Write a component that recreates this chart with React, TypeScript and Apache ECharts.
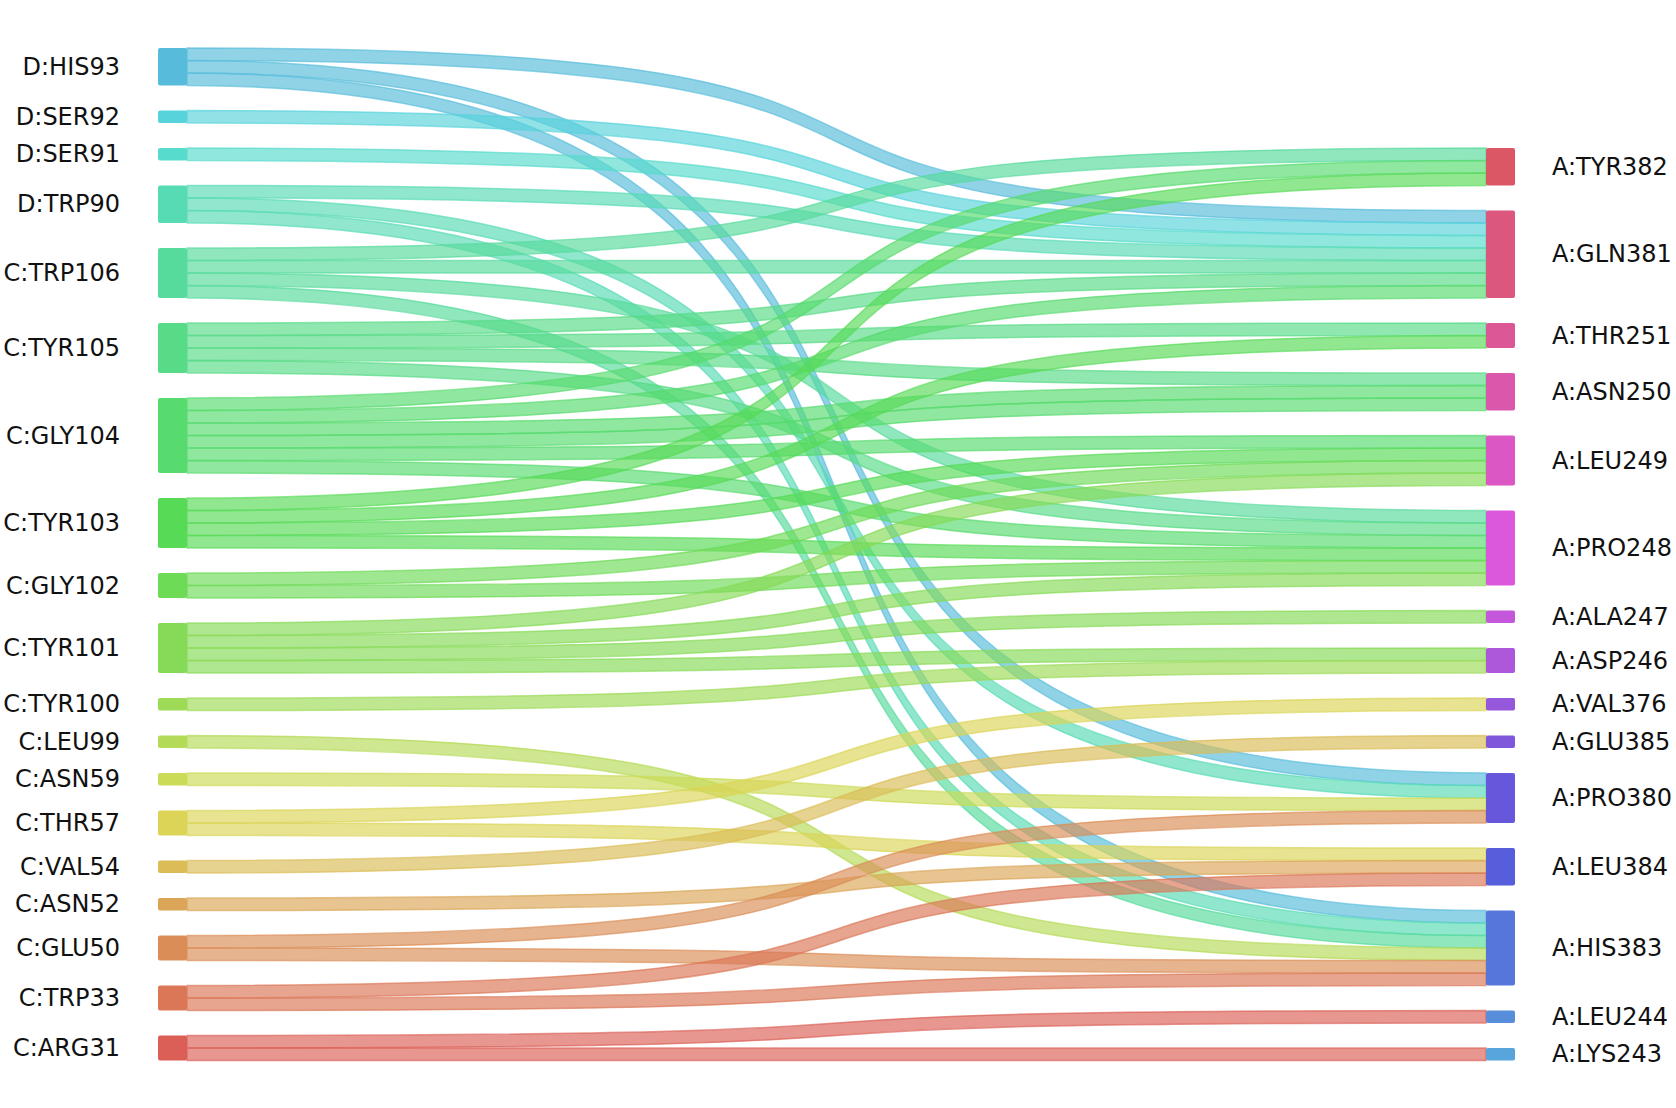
import React, { useEffect, useRef } from "react";
import * as echarts from "echarts";

// Left column (top to bottom)
const leftNodes = [
  "D:HIS93", "D:SER92", "D:SER91", "D:TRP90", "C:TRP106", "C:TYR105", "C:GLY104",
  "C:TYR103", "C:GLY102", "C:TYR101", "C:TYR100", "C:LEU99", "C:ASN59", "C:THR57",
  "C:VAL54", "C:ASN52", "C:GLU50", "C:TRP33", "C:ARG31",
];
const leftColors = [
  "#57bcdb", "#57d3db", "#57dbcc", "#57dbb4", "#57db9d", "#57db86", "#57db6e",
  "#57db57", "#6edb57", "#85db57", "#9ddb57", "#b4db57", "#ccdb57", "#dbd457",
  "#dbbc57", "#dba557", "#db8d57", "#db7657", "#db5f57",
];

// Right column (top to bottom)
const rightNodes = [
  "A:TYR382", "A:GLN381", "A:THR251", "A:ASN250", "A:LEU249", "A:PRO248", "A:ALA247",
  "A:ASP246", "A:VAL376", "A:GLU385", "A:PRO380", "A:LEU384", "A:HIS383", "A:LEU244",
  "A:LYS243",
];
const rightColors = [
  "#db5766", "#db577e", "#db5795", "#db57ac", "#db57c4", "#db57db", "#c457db",
  "#ad57db", "#9557db", "#7e57db", "#6657db", "#575edb", "#5776db", "#578ddb",
  "#57a5db",
];

// [source, target, number of contacts (strands)]
const contacts: [string, string, number][] = [
  ["D:HIS93", "A:GLN381", 1], ["D:HIS93", "A:PRO380", 1], ["D:HIS93", "A:HIS383", 1],
  ["D:SER92", "A:GLN381", 1],
  ["D:SER91", "A:GLN381", 1],
  ["D:TRP90", "A:GLN381", 1], ["D:TRP90", "A:PRO380", 1], ["D:TRP90", "A:HIS383", 1],
  ["C:TRP106", "A:TYR382", 1], ["C:TRP106", "A:GLN381", 1], ["C:TRP106", "A:PRO248", 1], ["C:TRP106", "A:HIS383", 1],
  ["C:TYR105", "A:GLN381", 1], ["C:TYR105", "A:THR251", 1], ["C:TYR105", "A:ASN250", 1], ["C:TYR105", "A:PRO248", 1],
  ["C:GLY104", "A:TYR382", 1], ["C:GLY104", "A:GLN381", 1], ["C:GLY104", "A:ASN250", 2], ["C:GLY104", "A:LEU249", 1], ["C:GLY104", "A:PRO248", 1],
  ["C:TYR103", "A:TYR382", 1], ["C:TYR103", "A:THR251", 1], ["C:TYR103", "A:LEU249", 1], ["C:TYR103", "A:PRO248", 1],
  ["C:GLY102", "A:LEU249", 1], ["C:GLY102", "A:PRO248", 1],
  ["C:TYR101", "A:LEU249", 1], ["C:TYR101", "A:PRO248", 1], ["C:TYR101", "A:ALA247", 1], ["C:TYR101", "A:ASP246", 1],
  ["C:TYR100", "A:ASP246", 1],
  ["C:LEU99", "A:HIS383", 1],
  ["C:ASN59", "A:PRO380", 1],
  ["C:THR57", "A:VAL376", 1], ["C:THR57", "A:LEU384", 1],
  ["C:VAL54", "A:GLU385", 1],
  ["C:ASN52", "A:LEU384", 1],
  ["C:GLU50", "A:PRO380", 1], ["C:GLU50", "A:HIS383", 1],
  ["C:TRP33", "A:LEU384", 1], ["C:TRP33", "A:HIS383", 1],
  ["C:ARG31", "A:LEU244", 1], ["C:ARG31", "A:LYS243", 1],
];

const CW = 1676;
const CH = 1108;
const TOP = 48;
const BOTTOM = 47.5;
const LEFT = 158;
const RIGHT = 161;
const GAP = 25;
const NODE_W = 29;

export default function App() {
  const ref = useRef<HTMLDivElement>(null);

  useEffect(() => {
    if (!ref.current) return;
    const chart = echarts.init(ref.current, undefined, { renderer: "svg" });

    const colorOf: Record<string, string> = {};
    leftNodes.forEach((n, i) => (colorOf[n] = leftColors[i]));
    rightNodes.forEach((n, i) => (colorOf[n] = rightColors[i]));

    const outSum: Record<string, number> = {};
    const inSum: Record<string, number> = {};
    const links: any[] = [];
    contacts.forEach(([s, t, n]) => {
      outSum[s] = (outSum[s] || 0) + n;
      inSum[t] = (inSum[t] || 0) + n;
      for (let k = 0; k < n; k++) {
        links.push({
          source: s,
          target: t,
          value: 1,
          lineStyle: {
            color: colorOf[s],
            borderColor: colorOf[s],
            borderWidth: 1.5,
            opacity: 0.66,
          },
        });
      }
    });

    const layoutH = CH - TOP - BOTTOM;
    const sumL = leftNodes.reduce((a, n) => a + (outSum[n] || 0), 0);
    const sumR = rightNodes.reduce((a, n) => a + (inSum[n] || 0), 0);
    const ky = Math.min(
      (layoutH - (leftNodes.length - 1) * GAP) / sumL,
      (layoutH - (rightNodes.length - 1) * GAP) / sumR
    );
    const rightSpan = sumR * ky + (rightNodes.length - 1) * GAP;
    let yCursor = layoutH - rightSpan;

    const nodes: any[] = [];
    leftNodes.forEach((n, i) => {
      nodes.push({
        name: n,
        itemStyle: { color: leftColors[i], borderRadius: 2 },
        label: { position: "left", distance: 38 },
      });
    });
    rightNodes.forEach((n, i) => {
      nodes.push({
        name: n,
        localY: yCursor / layoutH,
        itemStyle: { color: rightColors[i], borderRadius: 2 },
        label: { position: "right", distance: 37 },
      });
      yCursor += (inSum[n] || 0) * ky + GAP;
    });

    chart.setOption({
      animation: false,
      backgroundColor: "#ffffff",
      series: [
        {
          type: "sankey",
          left: LEFT,
          right: RIGHT,
          top: TOP,
          bottom: BOTTOM,
          nodeWidth: NODE_W,
          nodeGap: GAP,
          layoutIterations: 0,
          draggable: false,
          emphasis: { disabled: true },
          data: nodes,
          links: links,
          lineStyle: { curveness: 0.74 },
          label: {
            fontFamily: "DejaVu Sans",
            fontSize: 24,
            color: "#111111",
          },
        },
      ],
    });

    return () => {
      chart.dispose();
    };
  }, []);

  return (
    <div
      ref={ref}
      style={{
        position: "fixed",
        left: 0,
        top: 0,
        width: CW,
        height: CH,
        background: "#ffffff",
      }}
    />
  );
}
